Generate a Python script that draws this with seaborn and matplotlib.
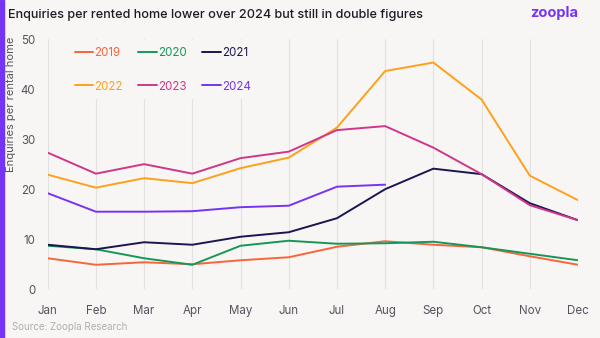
import matplotlib
matplotlib.use("Agg")
import matplotlib.pyplot as plt
import seaborn as sns
import pandas as pd
import numpy as np

months = ["Jan", "Feb", "Mar", "Apr", "May", "Jun", "Jul", "Aug", "Sep", "Oct", "Nov", "Dec"]
y2019 = [6.2, 4.9, 5.4, 5.0, 5.8, 6.4, 8.5, 9.6, 8.9, 8.4, 6.6, 4.9]
y2020 = [8.7, 8.0, 6.2, 4.9, 8.7, 9.7, 9.1, 9.2, 9.5, 8.4, 7.1, 5.8]
y2021 = [8.9, 8.0, 9.4, 8.9, 10.5, 11.4, 14.2, 20.0, 24.1, 23.0, 17.2, 13.8]
y2022 = [22.9, 20.3, 22.2, 21.2, 24.2, 26.3, 32.3, 43.6, 45.3, 37.9, 22.7, 17.8]
y2023 = [27.3, 23.1, 25.0, 23.1, 26.2, 27.5, 31.8, 32.6, 28.3, 23.0, 16.8, 13.8]
y2024 = [19.2, 15.5, 15.5, 15.6, 16.4, 16.7, 20.5, 20.9]
years = ["2019", "2020", "2021", "2022", "2023", "2024"]
series = [y2019, y2020, y2021, y2022, y2023, y2024]
colors = ["#f8653c", "#16975a", "#1b1551", "#ffa01c", "#d0368a", "#7633f5"]

rows = []
for yr, vals in zip(years, series):
    for i, v in enumerate(vals):
        rows.append({"year": yr, "idx": i, "value": v})
df = pd.DataFrame(rows)

bg = "#f7f6f4"
sns.set_theme(style="white")
plt.rcParams["font.family"] = ["Inter", "DejaVu Sans"]

fig = plt.figure(figsize=(6, 3.38), dpi=100, facecolor=bg)
ax = fig.add_axes([47.7 / 600, 1 - 289.3 / 338, (578 - 47.7) / 600, (289.3 - 39) / 338])
ax.set_facecolor(bg)

palette = dict(zip(years, colors))
sns.lineplot(data=df, x="idx", y="value", hue="year", palette=palette, ax=ax,
             linewidth=1.4, sort=False, legend=True)

ax.set_xlim(0, 11)
ax.set_ylim(0, 50)
ax.set_xticks(range(12))
ax.set_xticklabels(months)
ax.set_yticks([0, 10, 20, 30, 40, 50])
ax.tick_params(axis="both", length=0, labelsize=8.3, colors="#55535e")
ax.tick_params(axis="x", pad=11)
ax.tick_params(axis="y", pad=9)
for s in ax.spines.values():
    s.set_visible(False)
ax.grid(axis="x", color="#e4e2e0", linewidth=0.8)
ax.grid(axis="y", visible=False)
ax.set_xlabel("")
ax.set_ylabel("")

handles, labels = ax.get_legend_handles_labels()
order = [0, 3, 1, 4, 2, 5]
handles = [handles[i] for i in order]
labels = [labels[i] for i in order]
leg = ax.legend(handles, labels, ncol=3, loc="upper left", bbox_to_anchor=(0.027, 1.018),
                frameon=True, facecolor=bg, edgecolor="none", framealpha=1,
                fontsize=8.3, labelcolor="linecolor", handlelength=1.6, handletextpad=0.1,
                columnspacing=1.35, labelspacing=1.85, borderpad=0.6)
for line in leg.get_lines():
    line.set_linewidth(1.4)

# left accent bar
fig.patches.append(plt.Rectangle((0, 0), 4 / 600, 1, transform=fig.transFigure,
                                 color="#7633f5", zorder=10))

fig.text(8 / 600, 1 - 15 / 338, "Enquiries per rented home lower over 2024 but still in double figures",
         fontsize=9.1, color="#1d1b26", va="center", ha="left", fontweight="medium")
fig.text(578 / 600, 1 - 13 / 338, "zoopla", fontsize=10.5, color="#7633f5", va="center",
         ha="right", fontweight="bold")
fig.text(11 / 600, 1 - 37 / 338, "Enquiries per rental home", rotation=90, fontsize=8,
         color="#55535e", va="top", ha="center")
fig.text(12 / 600, 1 - 327 / 338, "Source: Zoopla Research", fontsize=7, color="#b0aeb0",
         va="center", ha="left")

fig.savefig("out.png", dpi=100, facecolor=bg)
